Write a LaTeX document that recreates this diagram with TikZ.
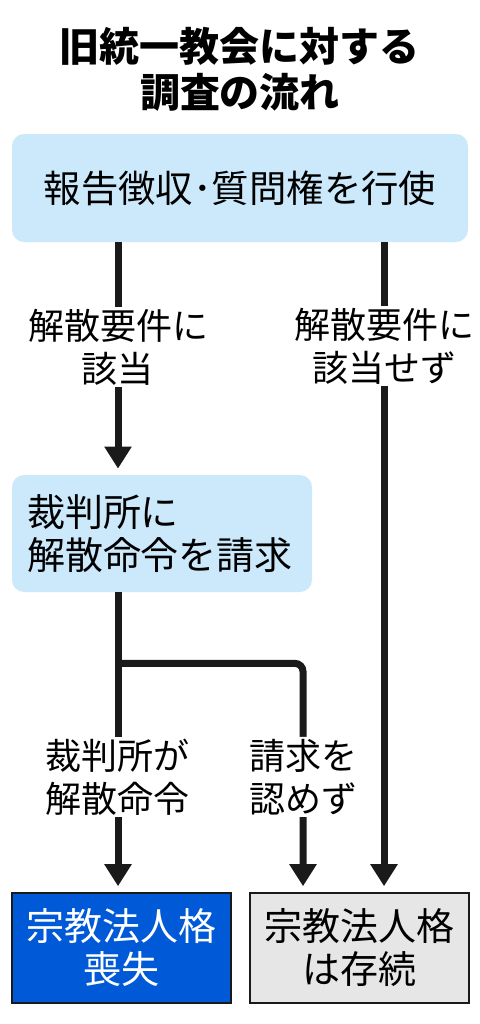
\documentclass[tikz,border=0pt]{standalone}
\usepackage{fontspec}
\setmainfont{Noto Sans CJK JP}
\usetikzlibrary{arrows.meta,positioning}
\definecolor{SkyBox}{HTML}{CCE9FB}
\definecolor{LossBlue}{HTML}{0059D6}
\definecolor{KeepGray}{HTML}{E6E6E6}
\definecolor{Ink}{HTML}{1A1A1A}

\begin{document}
\begin{tikzpicture}[x=0.5pt, y=-0.5pt,
  sky/.style={fill=SkyBox,rounded corners=6pt,inner sep=0pt,font=\fontsize{19}{21.5}\selectfont},
  res/.style={draw=Ink,line width=0.8pt,minimum width=109.5pt,minimum height=55pt,align=center,inner sep=0pt,font=\fontsize{19}{21.5}\selectfont},
  lbl/.style={fill=white,inner xsep=2pt,inner ysep=1pt,align=center,font=\fontsize{18}{21.5}\selectfont},
  arr/.style={draw=Ink,line width=3.5pt,-{Triangle[width=13pt,length=11pt]},shorten >=3pt}]
\useasboundingbox (0,0) rectangle (480,1024);
\node[font=\bfseries\fontsize{20}{23}\selectfont,align=center] (title) at (240,69) {旧統一教会に対する\\調査の流れ};
\node[sky,minimum width=228pt,minimum height=54pt,font=\fontsize{18.7}{21.5}\selectfont] (report) at (240,188) {報告徴収･質問権を行使};
\node[sky,minimum width=150pt,minimum height=58.5pt,text width=135pt,align=left] (court) at (162,533.5) {裁判所に\\解散命令を請求};
\node[res,fill=LossBlue,text=white] (lose) at (121.5,948) {宗教法人格\\喪失};
\node[res,fill=KeepGray] (keep) at (359.5,948) {宗教法人格\\は存続};
\coordinate (xl) at (118,0);
\coordinate (xm) at (303,0);
\coordinate (xr) at (384,0);
% connectors
\draw[arr] (report.south -| xl) -- node[lbl,pos=0.45] (hit) {解散要件に\\該当} (court.north -| xl);
\draw[arr] (report.south -| xr) -- node[lbl,pos=0.16] (nohit) {解散要件に\\該当せず} (keep.north -| xr);
\draw[arr] (court.south -| xl) -- node[lbl,pos=0.615] (order) {裁判所が\\解散命令} (lose.north -| xl);
\draw[arr,rounded corners=4pt] (court.south -| xl) ++(0,71) coordinate (split) -| node[lbl,pos=0.748] (deny) {請求を\\認めず} (keep.north -| xm);
\end{tikzpicture}
\end{document}
